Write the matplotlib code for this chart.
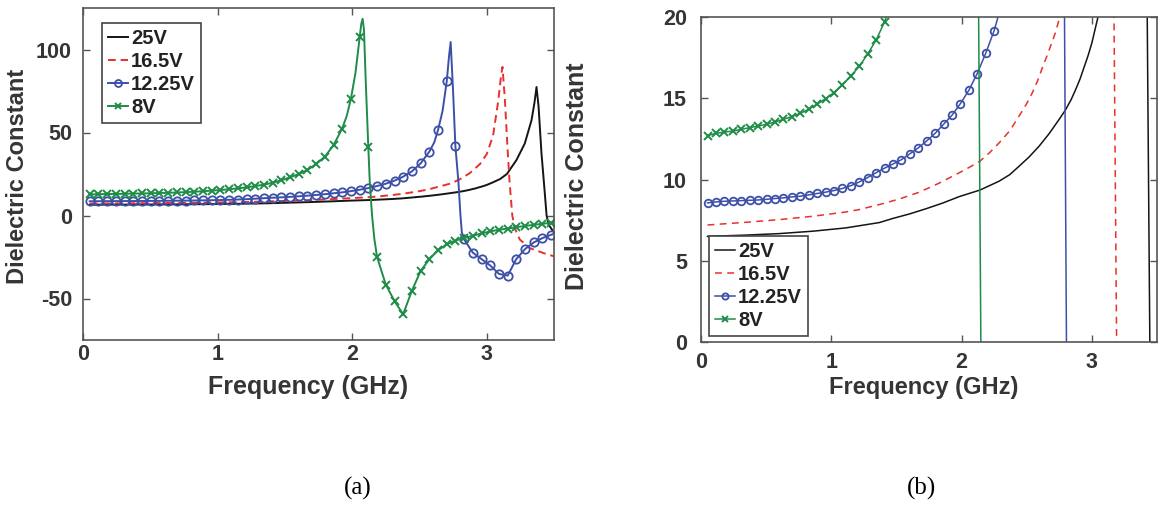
import numpy as np
import matplotlib.pyplot as plt

plt.rcParams['font.family'] = ['Liberation Sans', 'DejaVu Sans']
plt.rcParams['axes.unicode_minus'] = False

# marker frequencies (GHz) shared by the 12.25V and 8V curves
marker_freq = [0.050, 0.115, 0.179, 0.244, 0.309, 0.374, 0.438, 0.503, 0.568, 0.632,
               0.697, 0.762, 0.826, 0.891, 0.956, 1.021, 1.085, 1.150, 1.215, 1.279,
               1.344, 1.409, 1.473, 1.538, 1.603, 1.668, 1.732, 1.797, 1.862, 1.926,
               1.991, 2.056, 2.120, 2.185, 2.250, 2.315, 2.379, 2.444, 2.509, 2.573,
               2.638, 2.703, 2.767, 2.832, 2.897, 2.962, 3.026, 3.091, 3.156, 3.220,
               3.285, 3.350, 3.414, 3.479]

eps_8v_markers = [12.70, 12.84, 12.92, 12.98, 13.09, 13.19, 13.29, 13.40, 13.54, 13.70,
                  13.87, 14.07, 14.32, 14.63, 14.98, 15.35, 15.82, 16.38, 16.96, 17.72,
                  18.58, 19.70, 21.20, 23.00, 25.00, 27.40, 31.00, 35.40, 42.40, 52.40,
                  70.40, 107.40, 41.40, -25.00, -41.60, -51.60, -59.50, -45.30, -33.40, -26.40,
                  -21.00, -17.30, -15.10, -13.60, -12.20, -10.80, -9.60, -8.60, -7.90, -7.00,
                  -6.30, -5.60, -5.00, -4.40]

eps_12v_markers = [8.56, 8.62, 8.66, 8.68, 8.70, 8.72, 8.74, 8.78, 8.83, 8.87,
                   8.93, 8.97, 9.05, 9.14, 9.22, 9.32, 9.45, 9.62, 9.85, 10.12,
                   10.42, 10.70, 10.95, 11.22, 11.58, 11.95, 12.37, 12.84, 13.40, 13.95,
                   14.67, 15.49, 16.52, 17.76, 19.16, 21.00, 23.40, 26.60, 31.40, 38.40,
                   51.40, 80.80, 42.00, -14.40, -22.40, -26.30, -30.10, -35.20, -36.20, -26.20,
                   -20.20, -16.20, -13.60, -11.60]

# extra points of the lines between markers (resonance region)
extra_8v_freq = [1.960, 2.025, 2.068, 2.078, 2.088, 2.100, 2.131, 2.148, 2.165, 3.500]
extra_8v_eps = [60.0, 86.0, 115.5, 118.5, 112.0, 83.0, 20.0, 0.0, -14.0, -4.2]

extra_12v_freq = [2.610, 2.672, 2.720, 2.732, 2.750, 2.790, 2.805, 2.815, 3.500]
extra_12v_eps = [44.0, 63.0, 96.0, 104.5, 75.0, 20.0, 0.0, -10.0, -11.0]

freq_16v = [0.05, 0.35, 0.60, 0.86, 1.11, 1.215, 1.369, 1.522, 1.676, 1.829,
            1.983, 2.06, 2.141, 2.215, 2.289, 2.37, 2.442, 2.495, 2.544, 2.585,
            2.621, 2.66, 2.698, 2.725, 2.749, 2.80, 2.874, 2.95, 3.00, 3.047,
            3.084, 3.105, 3.117, 3.135, 3.155, 3.17, 3.19, 3.21, 3.246, 3.32,
            3.42, 3.50]
eps_16v = [7.20, 7.37, 7.53, 7.74, 8.00, 8.15, 8.46, 8.80, 9.22, 9.78,
           10.42, 10.75, 11.13, 11.65, 12.26, 13.00, 13.91, 14.60, 15.35, 16.10,
           16.90, 17.70, 18.54, 19.15, 19.88, 21.8, 25.5, 31.0, 37.0, 48.0,
           68.0, 83.0, 89.5, 70.0, 40.0, 20.0, 0.0, -8.0, -14.5, -19.6,
           -22.6, -24.6]

freq_25v = [0.05, 0.35, 0.60, 0.86, 1.11, 1.369, 1.471, 1.60, 1.727, 1.855,
            1.983, 2.141, 2.289, 2.37, 2.442, 2.52, 2.596, 2.67, 2.749, 2.795,
            2.84, 2.877, 2.91, 2.94, 2.97, 3.00, 3.047, 3.10, 3.15, 3.221,
            3.283, 3.333, 3.355, 3.37, 3.385, 3.407, 3.425, 3.445, 3.46, 3.494,
            3.50]
eps_25v = [6.50, 6.58, 6.67, 6.82, 7.02, 7.35, 7.60, 7.88, 8.20, 8.55,
           8.95, 9.35, 9.90, 10.30, 10.82, 11.40, 12.06, 12.80, 13.70, 14.25,
           14.90, 15.56, 16.20, 16.90, 17.60, 18.40, 20.0, 22.0, 25.0, 33.4,
           43.4, 57.4, 68.0, 77.4, 66.0, 37.4, 20.0, 0.0, -5.5, -9.6,
           -10.0]

labels = ['25V', '16.5V', '12.25V', '8V']
colors = ['#151515', '#e8302c', '#3c50a8', '#1f8c48']


def merge(f1, v1, f2, v2):
    f = np.concatenate([f1, f2])
    v = np.concatenate([v1, v2])
    order = np.argsort(f)
    return f[order], v[order]


line_8v = merge(marker_freq, eps_8v_markers, extra_8v_freq, extra_8v_eps)
line_12v = merge(marker_freq, eps_12v_markers, extra_12v_freq, extra_12v_eps)

W, H = 1160, 508
fig = plt.figure(figsize=(W / 100, H / 100), dpi=100)
ax1 = fig.add_axes([83 / W, 1 - 340 / H, 471 / W, 332 / H])
ax2 = fig.add_axes([701 / W, 1 - 342 / H, 456 / W, 325 / H])

text_col = '#353535'


def draw(ax, lw, ms, dash):
    h1, = ax.plot(freq_25v, eps_25v, color=colors[0], lw=lw)
    h2, = ax.plot(freq_16v, eps_16v, color=colors[1], lw=lw, ls=(0, dash))
    ax.plot(line_12v[0], line_12v[1], color=colors[2], lw=lw)
    ax.plot(marker_freq, eps_12v_markers, ls='none', marker='o', ms=ms,
            mfc='none', mec=colors[2], mew=1.3)
    ax.plot(line_8v[0], line_8v[1], color=colors[3], lw=lw)
    ax.plot(marker_freq, eps_8v_markers, ls='none', marker='x', ms=ms,
            mec=colors[3], mew=1.4)
    # legend proxies
    h3, = ax.plot([], [], color=colors[2], lw=lw, marker='o', ms=ms - 1,
                  mfc='none', mec=colors[2], mew=1.3)
    h4, = ax.plot([], [], color=colors[3], lw=lw, marker='x', ms=ms - 1,
                  mec=colors[3], mew=1.4)
    return [h1, h2, h3, h4]


def style(ax, yticks, ylim, tick_size, pad_y, pad_x):
    ax.set_xlim(0, 3.5)
    ax.set_ylim(*ylim)
    ax.set_xticks([0, 1, 2, 3])
    ax.set_yticks(yticks)
    ax.tick_params(direction='in', length=5, width=1.0, color='#555555',
                   top=True, right=True, labelsize=tick_size, labelcolor=text_col)
    ax.tick_params(axis='y', pad=pad_y)
    ax.tick_params(axis='x', pad=pad_x)
    for lab in ax.get_xticklabels() + ax.get_yticklabels():
        lab.set_fontweight('bold')
    for sp in ax.spines.values():
        sp.set_color('#555555')
        sp.set_linewidth(1.2)


def add_legend(ax, handles, loc, anchor):
    leg = ax.legend(handles, labels, loc=loc, bbox_to_anchor=anchor,
                    borderaxespad=0, prop={'weight': 'bold', 'size': 14.5},
                    handlelength=1.0, handletextpad=0.15, labelspacing=0.2,
                    borderpad=0.3, fancybox=False, framealpha=1, edgecolor='#444444')
    leg.get_frame().set_linewidth(1.2)
    for t in leg.get_texts():
        t.set_color('#222222')


handles = draw(ax1, 1.4, 6, (4, 2.5))
style(ax1, [-50, 0, 50, 100], (-75, 125), 15.5, 8, 3)
ax1.set_xlabel('Frequency (GHz)', fontsize=18, fontweight='bold', color=text_col, va='center')
ax1.xaxis.set_label_coords(0.478, -0.142)
ax1.set_ylabel('Dielectric Constant', fontsize=17, fontweight='bold', color=text_col, va='center')
ax1.yaxis.set_label_coords(-0.140, 0.494)
add_legend(ax1, handles, 'upper left', (0.040, 0.955))

handles = draw(ax2, 1.1, 5.5, (4.5, 3.5))
style(ax2, [0, 5, 10, 15, 20], (0, 20), 15.5, 10, 7)
ax2.set_xlabel('Frequency (GHz)', fontsize=17, fontweight='bold', color=text_col, va='center')
ax2.xaxis.set_label_coords(0.489, -0.1415)
ax2.set_ylabel('Dielectric Constant', fontsize=18, fontweight='bold', color=text_col, va='center')
ax2.yaxis.set_label_coords(-0.272, 0.511)
add_legend(ax2, handles, 'lower left', (0.0175, 0.018))

fig.text(358 / W, 1 - 488 / H, '(a)', family='Liberation Serif', fontsize=18,
         ha='center', va='center')
fig.text(921 / W, 1 - 488 / H, '(b)', family='Liberation Serif', fontsize=18,
         ha='center', va='center')

fig.savefig('out.png', dpi=100)
